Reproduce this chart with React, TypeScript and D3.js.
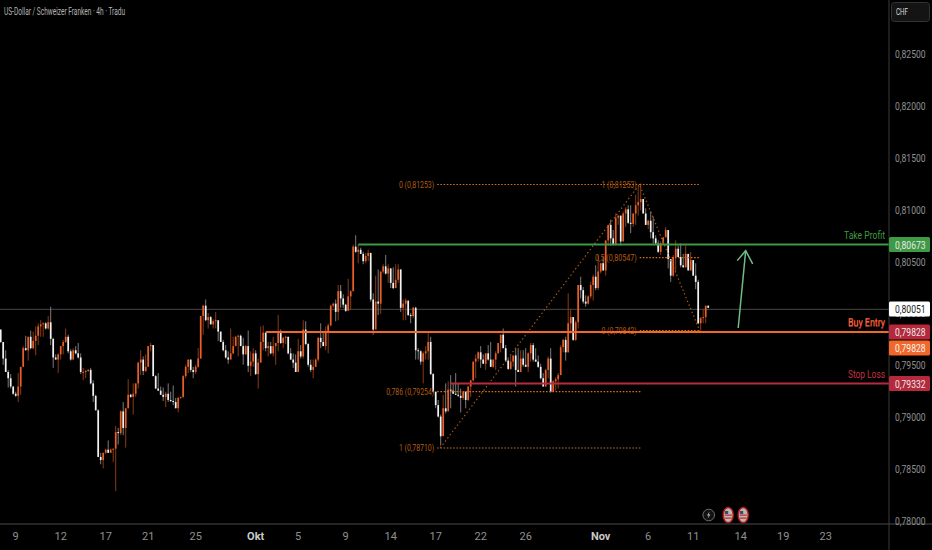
import React, { useEffect, useRef } from 'react';
import * as d3 from 'd3';

// 4h candles, prices in 1/10000. open = previous close
const firstOpen = 7984;
const closes = [
  7972, 7956, 7943, 7937, 7929, 7922, 7920, 7929, 7948, 7966,
  7964, 7977, 7966, 7973, 7978, 7987, 7989, 7990, 7985, 7991,
  7975, 7957, 7955, 7960, 7968, 7972, 7977, 7963, 7955, 7964,
  7961, 7957, 7943, 7943, 7944, 7945, 7932, 7920, 7906, 7861,
  7858, 7865, 7868, 7865, 7868, 7869, 7885, 7884, 7905, 7889,
  7908, 7921, 7919, 7922, 7932, 7952, 7955, 7944, 7948, 7968,
  7969, 7939, 7927, 7925, 7921, 7919, 7922, 7916, 7915, 7914,
  7908, 7918, 7919, 7939, 7948, 7955, 7945, 7943, 7948, 7956,
  7997, 8007, 7993, 7996, 7989, 7992, 7993, 7982, 7972, 7964,
  7957, 7955, 7961, 7968, 7977, 7978, 7968, 7960, 7968, 7949,
  7953, 7961, 7941, 7952, 7972, 7981, 7966, 7968, 7961, 7968,
  7971, 7982, 7971, 7976, 7977, 7961, 7955, 7952, 7943, 7963,
  7958, 7984, 7970, 7950, 7945, 7948, 7955, 7976, 7972, 7968,
  7981, 7988, 8007, 8009, 8001, 8021, 8014, 8008, 8002, 8016,
  8021, 8064, 8059, 8061, 8057, 8050, 8055, 8058, 8013, 7984,
  8011, 8009, 8040, 8045, 8038, 8043, 8029, 8024, 8032, 8042,
  8005, 8009, 8012, 7998, 7997, 8005, 7964, 7963, 7953, 7961,
  7963, 7972, 7941, 7924, 7911, 7900, 7881, 7908, 7905, 7926,
  7925, 7922, 7921, 7920, 7918, 7924, 7916, 7929, 7935, 7953,
  7956, 7962, 7955, 7951, 7961, 7955, 7948, 7955, 7961, 7971,
  7979, 7966, 7954, 7946, 7953, 7959, 7945, 7943, 7956, 7950,
  7948, 7961, 7969, 7955, 7953, 7948, 7937, 7929, 7945, 7956,
  7924, 7934, 7936, 7940, 7967, 7974, 7962, 7990, 7996, 7974,
  7991, 8027, 8022, 8011, 8009, 8016, 8027, 8035, 8024, 8040,
  8048, 8041, 8070, 8085, 8072, 8066, 8092, 8094, 8069, 8096,
  8100, 8087, 8086, 8096, 8104, 8107, 8110, 8096, 8085, 8089,
  8078, 8072, 8067, 8059, 8067, 8073, 8080, 8052, 8036, 8054,
  8062, 8054, 8046, 8044, 8057, 8041, 8051, 8036, 8030, 7990,
  7995, 7996, 8007, 8005,
];
const highs = [
  7984, 7972, 7964, 7945, 7941, 7929, 7924, 7942, 7948, 7968,
  7978, 7977, 7983, 7982, 7987, 7990, 7993, 7991, 7991, 7997,
  8006, 7976, 7960, 7961, 7968, 7974, 7985, 7979, 7965, 7966,
  7968, 7971, 7961, 7947, 7945, 7946, 7947, 7935, 7921, 7907,
  7865, 7865, 7869, 7877, 7869, 7869, 7891, 7889, 7906, 7914,
  7908, 7936, 7922, 7932, 7932, 7953, 7964, 7958, 7960, 7968,
  7971, 7969, 7940, 7942, 7929, 7928, 7924, 7932, 7924, 7930,
  7918, 7919, 7919, 7940, 7950, 7955, 7955, 7948, 7950, 7966,
  7997, 8008, 8013, 8000, 7997, 7994, 8001, 7992, 7982, 7974,
  7969, 7963, 7985, 7977, 7978, 7979, 7979, 7976, 7969, 7983,
  7963, 7966, 7964, 7956, 7987, 7988, 7981, 7972, 7972, 7977,
  7971, 7998, 7984, 7977, 7978, 7977, 7966, 7961, 7960, 7975,
  7969, 7993, 7992, 7971, 7955, 7955, 7956, 7977, 7990, 7981,
  7987, 7990, 8008, 8010, 8013, 8027, 8027, 8018, 8009, 8033,
  8022, 8066, 8075, 8066, 8063, 8059, 8058, 8061, 8054, 8019,
  8036, 8042, 8040, 8047, 8056, 8047, 8043, 8044, 8047, 8047,
  8042, 8013, 8014, 8010, 8000, 8006, 8006, 7966, 7964, 7963,
  7968, 7982, 7977, 7942, 7924, 7916, 7902, 7921, 7932, 7934,
  7940, 7932, 7942, 7932, 7927, 7924, 7924, 7929, 7935, 7953,
  7960, 7963, 7968, 7960, 7961, 7969, 7972, 7955, 7963, 7971,
  7979, 7985, 7969, 7956, 7959, 7959, 7966, 7966, 7964, 7964,
  7966, 7962, 7971, 7971, 7966, 7959, 7951, 7942, 7946, 7958,
  7966, 7935, 7938, 7942, 7969, 7975, 7977, 8019, 8004, 7996,
  7993, 8027, 8035, 8025, 8017, 8017, 8030, 8037, 8046, 8056,
  8048, 8054, 8070, 8085, 8090, 8080, 8096, 8094, 8086, 8098,
  8102, 8104, 8104, 8096, 8114, 8122, 8125, 8109, 8101, 8090,
  8098, 8093, 8075, 8070, 8069, 8073, 8083, 8080, 8052, 8056,
  8070, 8065, 8067, 8057, 8065, 8057, 8059, 8051, 8048, 8032,
  7996, 8004, 8007, 8007,
];
const lows = [
  7971, 7950, 7943, 7928, 7927, 7921, 7919, 7914, 7921, 7948,
  7964, 7954, 7965, 7965, 7959, 7969, 7977, 7977, 7984, 7984,
  7969, 7947, 7955, 7942, 7955, 7960, 7971, 7961, 7954, 7955,
  7960, 7956, 7941, 7935, 7937, 7943, 7931, 7914, 7906, 7861,
  7854, 7850, 7864, 7865, 7865, 7856, 7828, 7873, 7882, 7882,
  7870, 7908, 7918, 7902, 7919, 7927, 7940, 7940, 7943, 7948,
  7963, 7939, 7927, 7925, 7921, 7915, 7909, 7914, 7914, 7911,
  7908, 7904, 7917, 7918, 7937, 7942, 7943, 7937, 7941, 7947,
  7956, 7979, 7992, 7985, 7989, 7985, 7985, 7973, 7972, 7963,
  7956, 7951, 7958, 7960, 7968, 7958, 7968, 7950, 7960, 7943,
  7939, 7948, 7940, 7927, 7952, 7964, 7963, 7958, 7960, 7958,
  7950, 7963, 7970, 7966, 7970, 7960, 7955, 7947, 7943, 7952,
  7956, 7956, 7969, 7948, 7943, 7937, 7948, 7953, 7966, 7968,
  7964, 7961, 7987, 8005, 7992, 7993, 8005, 8005, 8001, 8003,
  8003, 8021, 8058, 8048, 8057, 8047, 8048, 8050, 8011, 7979,
  7997, 7998, 7999, 8038, 8037, 8029, 8024, 8023, 8024, 8029,
  8001, 7993, 7993, 7997, 7990, 7995, 7955, 7955, 7950, 7932,
  7955, 7955, 7940, 7923, 7908, 7899, 7872, 7882, 7903, 7916,
  7908, 7922, 7921, 7919, 7904, 7916, 7908, 7915, 7919, 7934,
  7937, 7953, 7947, 7951, 7945, 7954, 7948, 7947, 7945, 7961,
  7962, 7966, 7953, 7945, 7945, 7948, 7929, 7943, 7948, 7948,
  7948, 7943, 7953, 7953, 7953, 7947, 7936, 7929, 7929, 7937,
  7923, 7924, 7925, 7927, 7940, 7962, 7954, 7962, 7980, 7973,
  7973, 7985, 8014, 8009, 8006, 8008, 8014, 8012, 8022, 8022,
  8038, 8041, 8036, 8065, 8065, 8065, 8065, 8085, 8065, 8069,
  8083, 8086, 8077, 8083, 8085, 8094, 8099, 8096, 8085, 8081,
  8072, 8067, 8067, 8058, 8056, 8066, 8073, 8043, 8030, 8035,
  8040, 8054, 8044, 8044, 8044, 8041, 8041, 8036, 8023, 7989,
  7983, 7990, 7990, 8005,
];

const priceTicks = [0.825, 0.82, 0.815, 0.81, 0.805, 0.8, 0.795, 0.79, 0.785, 0.78];
const timeLabels = ['9', '12', '17', '21', '25', 'Okt', '5', '9', '14', '17', '22', '26', 'Nov', '6', '11', '14', '19', '23'];
const timeBars = [6, 24, 42, 59, 78, 102, 119, 138, 156, 174, 192, 210, 240, 259, 277, 296, 313, 330];

const takeProfit = 0.80673;
const buyEntry = 0.79828;
const stopLoss = 0.79332;
const lastPrice = 0.80051;

// fib drawings: [label, price]
const fibLeft = [['0', 0.81253], ['0,786', 0.79254], ['1', 0.7871]] as [string, number][];
const fibRight = [['1', 0.81253], ['0,5', 0.80547], ['0', 0.79842]] as [string, number][];
// diagonals as [bar, price]
const fibDiagonal = [[175.8, 0.7871], [255.5, 0.81253], [279.6, 0.79842]] as [number, number][];
const arrowShaft = [[295, 0.79868], [298, 0.80614]] as [number, number][];
const arrowHead = [[294.6, 0.80518], [298, 0.80614], [300.8, 0.80486]] as [number, number][];

const commaFormat = (p: number) => d3.format('.5f')(p).replace('.', ',');
const labelFont = 'Roboto, sans-serif';

const App: React.FC = () => {
  const ref = useRef<SVGSVGElement | null>(null);

  useEffect(() => {
    if (!ref.current) return;
    const svg = d3.select(ref.current);
    svg.selectAll('*').remove(); // Clear previous SVG content

    const width = 932;
    const height = 550;
    const axisX = 889;
    const axisY = 524;

    const y = d3.scaleLinear().domain([0.78, 0.825]).range([521.5, 55.3]);
    const x = d3.scaleLinear().domain([0, 283]).range([0.7, 708.2]);
    // candle readings sat about 1.3 pips low against the level prices
    const pip = (v: number) => y((v + 1.3) / 10000);

    svg.append('rect').attr('width', width).attr('height', height).attr('fill', '#000');

    // current price line, under the candles
    svg.append('line')
      .attr('x1', 0).attr('x2', axisX)
      .attr('y1', y(lastPrice) + 0.3).attr('y2', y(lastPrice) + 0.3)
      .attr('stroke', '#5a5a5a').attr('stroke-width', 0.8);

    // candles
    const candles = closes.map((c, i) => ({
      i,
      open: i === 0 ? firstOpen : closes[i - 1],
      close: c,
      high: highs[i],
      low: lows[i],
    }));
    const g = svg.append('g');
    g.selectAll('.wick')
      .data(candles)
      .enter().append('line')
      .attr('class', 'wick')
      .attr('x1', d => x(d.i)).attr('x2', d => x(d.i))
      .attr('y1', d => pip(d.high)).attr('y2', d => pip(d.low))
      .attr('stroke', d => (d.close >= d.open ? '#8a3a14' : '#7c7c7c'))
      .attr('stroke-width', 1);
    g.selectAll('.body')
      .data(candles)
      .enter().append('rect')
      .attr('class', 'body')
      .attr('x', d => x(d.i) - 0.85)
      .attr('width', 1.7)
      .attr('y', d => pip(Math.max(d.open, d.close)))
      .attr('height', d => Math.max(1, Math.abs(pip(d.open) - pip(d.close))))
      .attr('fill', d => (d.close >= d.open ? '#e95f28' : '#f2f2f2'));

    // fib levels and diagonals
    const fibColor = '#b25c12';
    const drawFib = (levels: [string, number][], from: number, to: number) => {
      levels.forEach(([name, price]) => {
        const label = `${name} (${commaFormat(price)})`;
        svg.append('line')
          .attr('x1', x(from)).attr('x2', x(to))
          .attr('y1', y(price)).attr('y2', y(price))
          .attr('stroke', '#d0701a').attr('stroke-width', 1.1)
          .attr('stroke-dasharray', '1.6 1.6');
        svg.append('text')
          .attr('x', x(from) - 3).attr('y', y(price) + 3.4)
          .attr('text-anchor', 'end')
          .attr('font-family', labelFont).attr('font-size', 9.5)
          .attr('textLength', label.length * 3.2).attr('lengthAdjust', 'spacingAndGlyphs')
          .attr('fill', fibColor)
          .text(label);
      });
    };
    drawFib(fibLeft, 174.6, 256);
    drawFib(fibRight, 255.6, 279.6);

    const line = d3.line<[number, number]>().x(d => x(d[0])).y(d => y(d[1]));
    svg.append('path')
      .attr('d', line(fibDiagonal))
      .attr('fill', 'none')
      .attr('stroke', '#a85a10').attr('stroke-width', 1.2)
      .attr('stroke-dasharray', '1.4 2.6');

    // trade levels
    const levels = [
      { price: takeProfit, from: 143, color: '#3f9a45' },
      { price: buyEntry, from: 106, color: '#f2682a' },
      { price: stopLoss, from: 180, color: '#b62c3e' },
    ];
    levels.forEach(l => {
      svg.append('line')
        .attr('x1', x(l.from)).attr('x2', axisX)
        .attr('y1', y(l.price)).attr('y2', y(l.price))
        .attr('stroke', l.color).attr('stroke-width', 2);
    });
    const levelText = (txt: string, price: number, color: string, dy: number, w: number) => {
      svg.append('text')
        .attr('x', axisX - 4).attr('y', y(price) + dy)
        .attr('text-anchor', 'end')
        .attr('font-family', labelFont).attr('font-size', 11)
        .attr('textLength', w).attr('lengthAdjust', 'spacingAndGlyphs')
        .attr('fill', color)
        .text(txt);
    };
    levelText('Take Profit', takeProfit, '#3f9a45', -6, 41);
    levelText('Stop Loss', stopLoss, '#c63040', -6, 37);
    levelText('Buy Entry', buyEntry, '#c63040', -5.5, 37);
    levelText('Buy Entry', buyEntry, '#f2682a', -6, 37);

    // arrow
    [arrowShaft, arrowHead].forEach(pts => {
      svg.append('path')
        .attr('d', line(pts))
        .attr('fill', 'none')
        .attr('stroke', '#6fbd85').attr('stroke-width', 1.5);
    });

    // price scale
    svg.append('line').attr('x1', axisX).attr('x2', axisX).attr('y1', 0).attr('y2', height)
      .attr('stroke', '#3a3a3a');
    svg.append('line').attr('x1', 0).attr('x2', width).attr('y1', axisY).attr('y2', axisY)
      .attr('stroke', '#4a4a4a');

    // scale labels are narrow, squeeze them horizontally so they stay on the page
    const squeeze = (py: number) => `translate(895,${py}) scale(0.78,1)`;

    svg.selectAll('.ptick')
      .data(priceTicks)
      .enter().append('text')
      .attr('class', 'ptick')
      .attr('transform', d => squeeze(y(d) + 3))
      .attr('font-family', labelFont).attr('font-size', 11)
      .attr('fill', '#909090')
      .text(d => commaFormat(d));

    const pills = [
      { price: takeProfit, cy: y(takeProfit), bg: '#3f9a45', fg: '#e8e8e8' },
      { price: lastPrice, cy: y(lastPrice), bg: '#ffffff', fg: '#222222' },
      { price: buyEntry, cy: y(buyEntry), bg: '#b5293c', fg: '#e8e8e8' },
      { price: buyEntry, cy: y(buyEntry) + 16, bg: '#f2682a', fg: '#f4f4f4' },
      { price: stopLoss, cy: y(stopLoss), bg: '#b5293c', fg: '#e8e8e8' },
    ];
    pills.forEach(p => {
      svg.append('rect')
        .attr('x', axisX).attr('y', p.cy - 7.5)
        .attr('width', 41).attr('height', 15).attr('rx', 1.5)
        .attr('fill', p.bg);
      svg.append('text')
        .attr('transform', squeeze(p.cy + 4))
        .attr('font-family', labelFont).attr('font-size', 11)
        .attr('fill', p.fg)
        .text(commaFormat(p.price));
    });

    // time axis
    svg.selectAll('.ttick')
      .data(timeLabels)
      .enter().append('text')
      .attr('class', 'ttick')
      .attr('x', (_, i) => x(timeBars[i])).attr('y', 540)
      .attr('text-anchor', 'middle')
      .attr('font-family', labelFont).attr('font-size', 11)
      .attr('font-weight', d => (d === 'Okt' || d === 'Nov' ? 700 : 400))
      .attr('fill', d => (d === 'Okt' || d === 'Nov' ? '#c8c8c8' : '#909090'))
      .text(d => d);

    // header and currency box
    svg.append('text')
      .attr('x', 4).attr('y', 15)
      .attr('font-family', labelFont).attr('font-size', 10)
      .attr('textLength', 121).attr('lengthAdjust', 'spacingAndGlyphs')
      .attr('fill', '#b4b4b4')
      .text('US-Dollar / Schweizer Franken · 4h · Tradu');
    svg.append('rect')
      .attr('x', 891.5).attr('y', 2.5).attr('width', 38).attr('height', 19).attr('rx', 3)
      .attr('fill', '#141414').attr('stroke', '#333');
    svg.append('text')
      .attr('x', 896).attr('y', 15)
      .attr('font-family', labelFont).attr('font-size', 9)
      .attr('textLength', 12).attr('lengthAdjust', 'spacingAndGlyphs')
      .attr('fill', '#dcdcdc')
      .text('CHF');

    // event markers on the time scale
    const bolt = svg.append('g').attr('transform', `translate(${x(283.2)},515)`);
    bolt.append('circle').attr('r', 5.8).attr('fill', '#111').attr('stroke', '#6e6e6e').attr('stroke-width', 1);
    bolt.append('path').attr('d', 'M1,-3.5 L-1.8,0.6 L0,0.6 L-1,3.5 L1.8,-0.6 L0,-0.6 Z').attr('fill', '#b8b8b8');
    [291, 297].forEach(bar => {
      const e = svg.append('g').attr('transform', `translate(${x(bar)},515)`);
      e.append('ellipse').attr('rx', 5).attr('ry', 7.5).attr('fill', '#b8b8b8').attr('stroke', '#c01c1c').attr('stroke-width', 1.4);
      e.append('rect').attr('x', -3.4).attr('y', -4).attr('width', 3.4).attr('height', 3).attr('fill', '#3a4a78');
      [-0.5, 2.5].forEach(dy => {
        e.append('rect').attr('x', -3.6).attr('y', dy).attr('width', 7.2).attr('height', 1.3).attr('fill', '#c0392b');
      });
    });
  }, []);

  return <svg ref={ref} width={932} height={550} style={{ position: 'absolute', left: 0, top: 0, display: 'block' }} />;
};

export default App;
